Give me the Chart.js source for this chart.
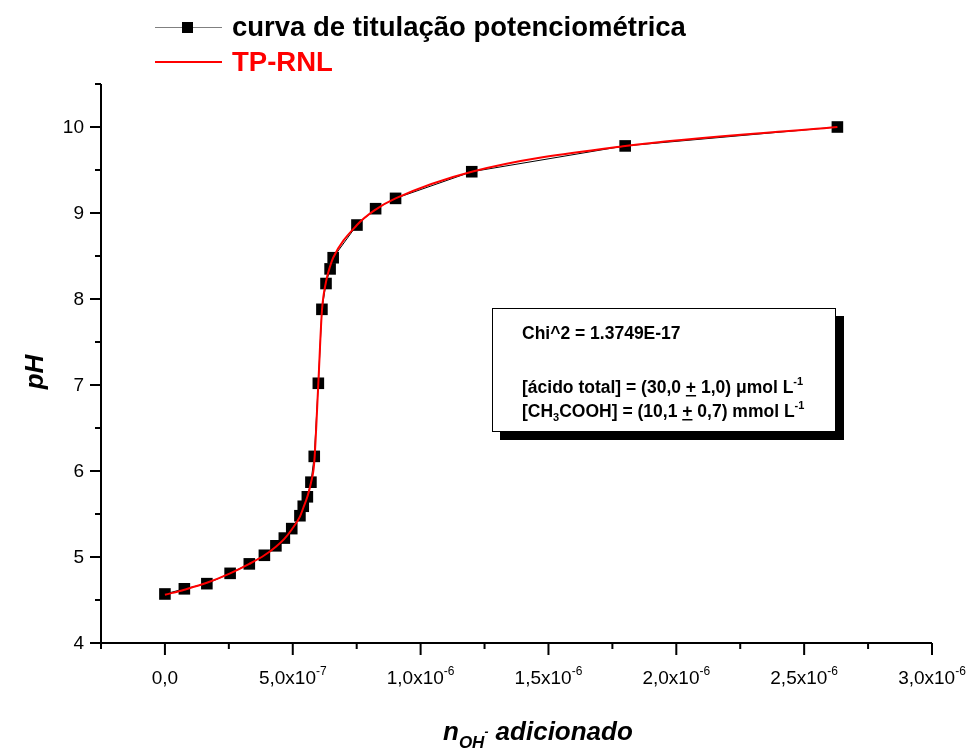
<!DOCTYPE html>
<html><head><meta charset="utf-8">
<script src="https://cdn.jsdelivr.net/npm/chart.js@4"></script>
<style>html,body{margin:0;padding:0;background:#fff}#wrap{width:974px;height:751px;position:relative}</style>
</head><body><div id="wrap"><canvas id="c" width="974" height="751"></canvas></div>
<script>
// ---- data ----
const nOH = [0, 7.6e-8, 1.64e-7, 2.55e-7, 3.30e-7, 3.89e-7, 4.34e-7, 4.67e-7, 4.96e-7, 5.28e-7, 5.41e-7, 5.57e-7, 5.71e-7, 5.84e-7, 6.00e-7, 6.14e-7, 6.30e-7, 6.46e-7, 6.58e-7, 7.51e-7, 8.24e-7, 9.02e-7, 1.20e-6, 1.80e-6, 2.63e-6];
const pH = [4.57, 4.63, 4.69, 4.81, 4.92, 5.02, 5.13, 5.22, 5.33, 5.48, 5.59, 5.70, 5.87, 6.17, 7.02, 7.88, 8.18, 8.35, 8.48, 8.86, 9.05, 9.17, 9.48, 9.78, 10.00];
const fitX = [0, 7.6e-8, 1.64e-7, 2.55e-7, 3.30e-7, 3.89e-7, 4.34e-7, 4.67e-7, 4.96e-7, 5.28e-7, 5.41e-7, 5.57e-7, 5.71e-7, 5.84e-7, 6.00e-7, 6.14e-7, 6.30e-7, 6.46e-7, 6.58e-7, 7.51e-7, 8.24e-7, 9.02e-7, 1.20e-6, 1.80e-6, 2.63e-6];
const fitPH = [4.56, 4.62, 4.70, 4.81, 4.92, 5.02, 5.12, 5.21, 5.32, 5.47, 5.57, 5.70, 5.86, 6.10, 7.02, 7.86, 8.20, 8.38, 8.48, 8.86, 9.04, 9.17, 9.48, 9.78, 10.00];

const xMajorTicks = [0, 5e-7, 1e-6, 1.5e-6, 2e-6, 2.5e-6, 3e-6];
const xTickMantissa = ['0,0', '5,0x10', '1,0x10', '1,5x10', '2,0x10', '2,5x10', '3,0x10'];
const xTickExponent = ['', '-7', '-6', '-6', '-6', '-6', '-6'];
const xMinorTicks = [-2.5e-7, 2.5e-7, 7.5e-7, 1.25e-6, 1.75e-6, 2.25e-6, 2.75e-6];
const yMajorTicks = [4, 5, 6, 7, 8, 9, 10];
const yMinorTicks = [4.5, 5.5, 6.5, 7.5, 8.5, 9.5, 10.5];

const seriesNames = ['curva de titulação potenciométrica', 'TP-RNL'];

const FONT = '"Liberation Sans", Arial, sans-serif';

function drawRich(ctx, x, y, segs) {
  let cx = x;
  for (const s of segs) {
    ctx.font = s.f;
    ctx.fillStyle = s.c || '#000';
    const yy = y + (s.dy || 0);
    ctx.fillText(s.t, cx, yy);
    const w = ctx.measureText(s.t).width;
    if (s.u) ctx.fillRect(cx, yy + 2, w, 1.5);
    cx += w;
  }
  return cx - x;
}
function richWidth(ctx, segs) {
  let w = 0;
  for (const s of segs) { ctx.font = s.f; w += ctx.measureText(s.t).width; }
  return w;
}

const decor = {
  id: 'decor',
  afterDraw(chart) {
    const ctx = chart.ctx;
    const xs = chart.scales.x, ys = chart.scales.y;
    const ca = chart.chartArea;
    ctx.save();
    ctx.strokeStyle = '#000';
    ctx.fillStyle = '#000';
    ctx.lineWidth = 2;
    // axes
    ctx.beginPath();
    ctx.moveTo(ca.left, ca.top);
    ctx.lineTo(ca.left, ca.bottom);
    ctx.lineTo(ca.right, ca.bottom);
    ctx.stroke();
    // ticks
    ctx.beginPath();
    for (const v of xMajorTicks) { const p = xs.getPixelForValue(v); ctx.moveTo(p, ca.bottom); ctx.lineTo(p, ca.bottom + 12); }
    for (const v of xMinorTicks) { const p = xs.getPixelForValue(v); ctx.moveTo(p, ca.bottom); ctx.lineTo(p, ca.bottom + 6); }
    for (const v of yMajorTicks) { const p = ys.getPixelForValue(v); ctx.moveTo(ca.left, p); ctx.lineTo(ca.left - 11, p); }
    for (const v of yMinorTicks) { const p = ys.getPixelForValue(v); ctx.moveTo(ca.left, p); ctx.lineTo(ca.left - 6, p); }
    ctx.stroke();
    // y labels
    ctx.textBaseline = 'middle';
    ctx.textAlign = 'right';
    ctx.font = '19px ' + FONT;
    for (const v of yMajorTicks) ctx.fillText(String(v), ca.left - 17, ys.getPixelForValue(v) + 1);
    // x labels
    ctx.textAlign = 'left';
    ctx.textBaseline = 'alphabetic';
    xMajorTicks.forEach((v, i) => {
      const segs = [{ t: xTickMantissa[i], f: '19px ' + FONT }];
      if (xTickExponent[i]) segs.push({ t: xTickExponent[i], f: '12px ' + FONT, dy: -9 });
      const w = richWidth(ctx, segs);
      drawRich(ctx, xs.getPixelForValue(v) - w / 2, ca.bottom + 41, segs);
    });
    // y title
    ctx.save();
    ctx.translate(36, 372);
    ctx.rotate(-Math.PI / 2);
    ctx.textAlign = 'center';
    ctx.textBaseline = 'middle';
    ctx.font = 'italic bold 26px ' + FONT;
    ctx.fillText('pH', 0, 0);
    ctx.restore();
    // x title
    drawRich(ctx, 443, 740, [
      { t: 'n', f: 'italic bold 26px ' + FONT },
      { t: 'OH', f: 'italic bold 17px ' + FONT, dy: 8 },
      { t: '-', f: 'italic bold 12px ' + FONT, dy: -4 },
      { t: ' adicionado', f: 'italic bold 26px ' + FONT }
    ]);
    // legend
    ctx.lineWidth = 1;
    ctx.strokeStyle = '#808080';
    ctx.beginPath(); ctx.moveTo(155, 27.5); ctx.lineTo(222, 27.5); ctx.stroke();
    ctx.fillStyle = '#000';
    ctx.fillRect(182, 22, 11, 11);
    ctx.strokeStyle = '#ff0000';
    ctx.lineWidth = 2;
    ctx.beginPath(); ctx.moveTo(155, 62); ctx.lineTo(222, 62); ctx.stroke();
    ctx.textBaseline = 'middle';
    ctx.textAlign = 'left';
    ctx.font = 'bold 27.5px ' + FONT;
    ctx.fillStyle = '#000';
    ctx.fillText(seriesNames[0], 232, 28);
    ctx.fillStyle = '#ff0000';
    ctx.fillText(seriesNames[1], 232, 63);
    // text box with shadow
    ctx.fillStyle = '#000';
    ctx.fillRect(500, 316, 344, 124);
    ctx.fillStyle = '#fff';
    ctx.fillRect(492, 308, 344, 124);
    ctx.strokeStyle = '#000';
    ctx.lineWidth = 1;
    ctx.strokeRect(492.5, 308.5, 343, 123);
    ctx.fillStyle = '#000';
    ctx.textBaseline = 'alphabetic';
    const bf = 'bold 17.5px ' + FONT;
    const sf = 'bold 11px ' + FONT;
    drawRich(ctx, 522, 339, [{ t: 'Chi^2 = 1.3749E-17', f: bf }]);
    drawRich(ctx, 522, 393, [
      { t: '[ácido total] = (30,0 ', f: bf }, { t: '+', f: bf, u: true },
      { t: ' 1,0) μmol L', f: bf }, { t: '-1', f: sf, dy: -8 }
    ]);
    drawRich(ctx, 522, 417, [
      { t: '[CH', f: bf }, { t: '3', f: sf, dy: 4 }, { t: 'COOH] = (10,1 ', f: bf },
      { t: '+', f: bf, u: true }, { t: ' 0,7) mmol L', f: bf }, { t: '-1', f: sf, dy: -8 }
    ]);
    ctx.restore();
  }
};

new Chart(document.getElementById('c'), {
  type: 'scatter',
  data: {
    datasets: [
      {
        label: seriesNames[1],
        data: fitX.map((x, i) => ({ x, y: fitPH[i] })),
        showLine: true,
        borderColor: '#ff0000',
        borderWidth: 2,
        pointRadius: 0,
        cubicInterpolationMode: 'monotone',
        order: 0
      },
      {
        label: seriesNames[0],
        data: nOH.map((x, i) => ({ x, y: pH[i] })),
        showLine: true,
        borderColor: '#000',
        borderWidth: 1,
        pointStyle: 'rect',
        pointRadius: 8.2,
        pointBackgroundColor: '#000',
        pointBorderWidth: 0,
        order: 1
      }
    ]
  },
  options: {
    responsive: false,
    animation: false,
    devicePixelRatio: 1,
    layout: { padding: { left: 101, top: 84, right: 42, bottom: 108 } },
    scales: {
      x: { type: 'linear', min: -2.5e-7, max: 3e-6, display: false },
      y: { type: 'linear', min: 4, max: 10.5, display: false }
    },
    plugins: { legend: { display: false }, tooltip: { enabled: false } }
  },
  plugins: [decor]
});
</script>
</body></html>
